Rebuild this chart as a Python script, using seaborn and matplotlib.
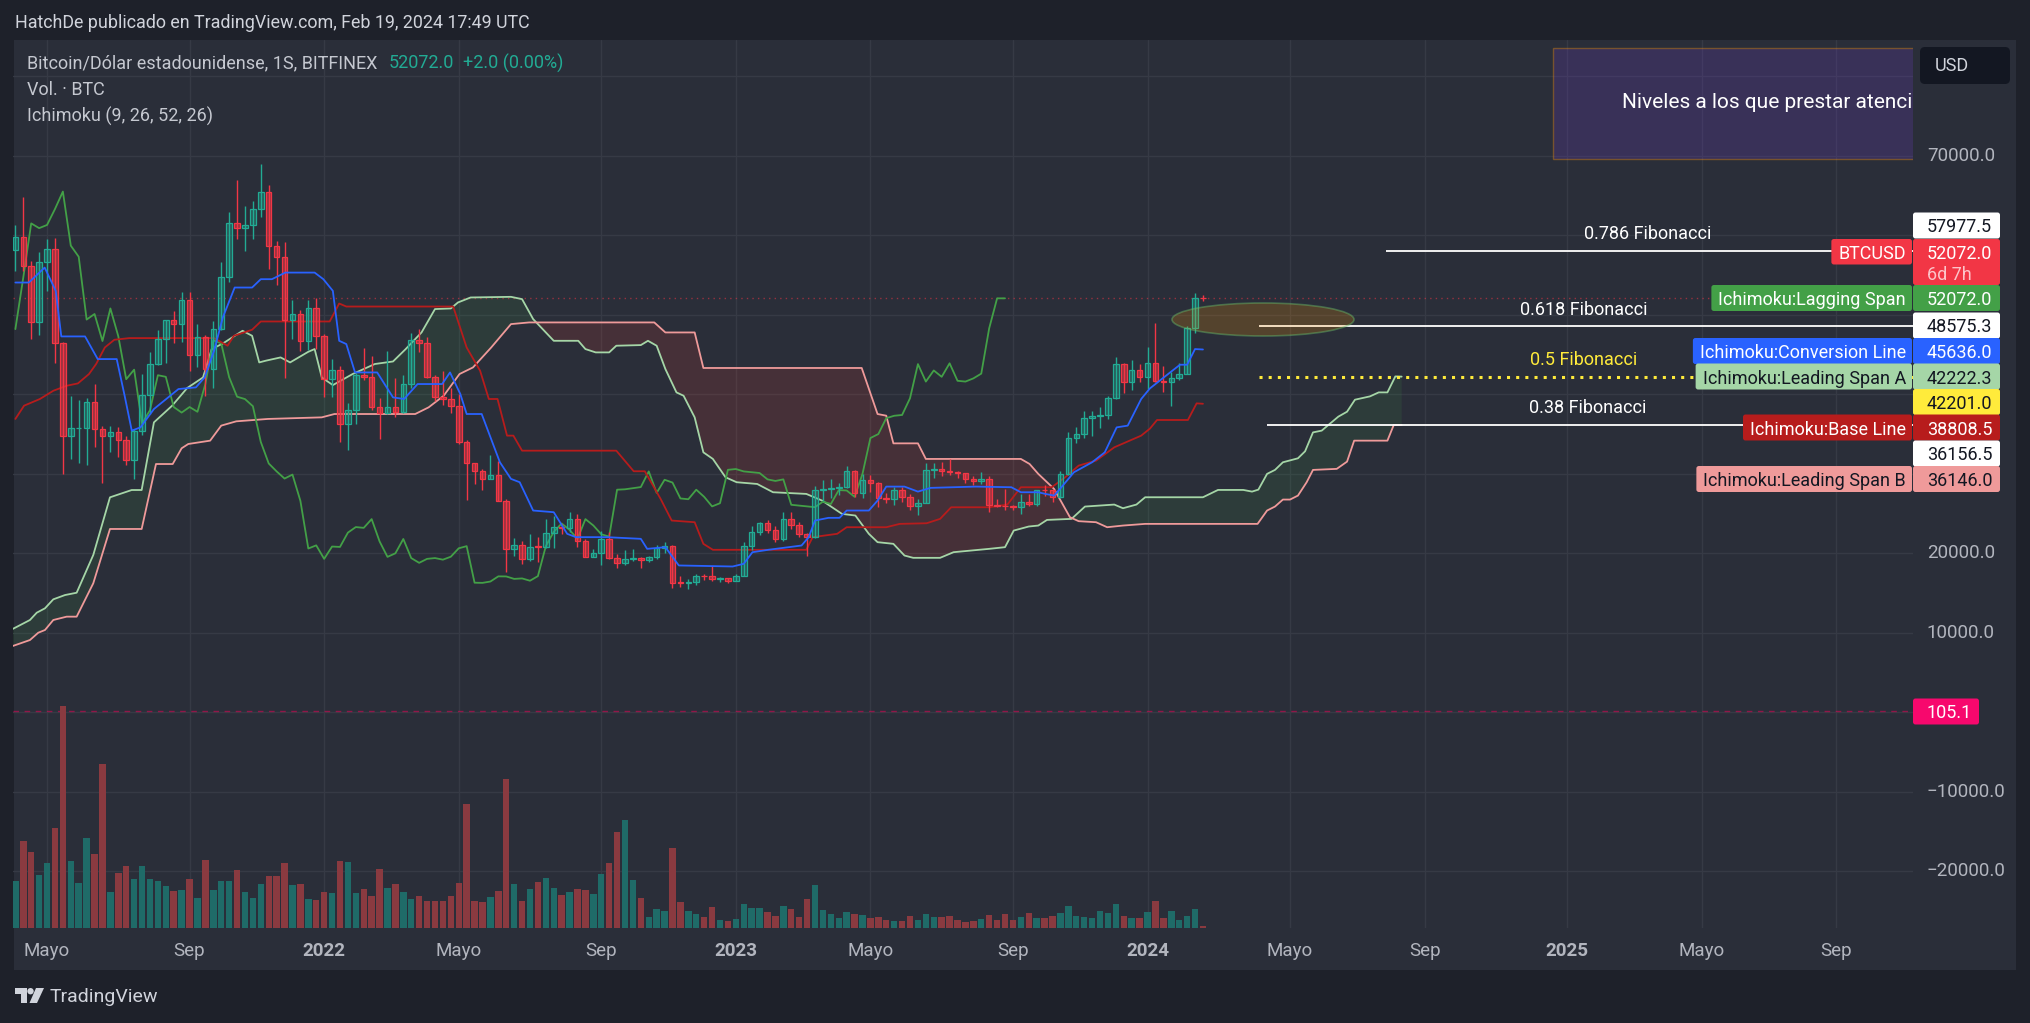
import numpy as np
import pandas as pd
import matplotlib
matplotlib.use("Agg")
import matplotlib.pyplot as plt
import matplotlib.dates as mdates
from matplotlib.patches import Rectangle, Ellipse, Polygon, Circle, FancyBboxPatch
from matplotlib.transforms import IdentityTransform
from matplotlib.colors import to_rgba
import seaborn as sns

# ---------------- data (weekly BTCUSD, Bitfinex) ----------------
first_week = "2021-04-05"
opens = [58200, 59800, 56200, 49100, 56600, 58250, 46500, 34800, 35700, 35800,
         39000, 35600, 34700, 35300, 34200, 31700, 35400, 39850, 43800, 47000,
         49300, 48900, 51800, 45000, 47200, 43200, 48200, 54700, 61500, 60900,
         61300, 63300, 65500, 58700, 57300, 49400, 50100, 46700, 50800, 47300,
         41900, 43100, 36300, 38000, 42400, 42200, 38400, 37700, 38400, 37800,
         41300, 46800, 46400, 42150, 39700, 39400, 38500, 34000, 31300, 30300,
         29400, 29900, 26600, 20600, 21000, 19300, 20850, 20800, 22600, 23300,
         23200, 24300, 21500, 19550, 20000, 21800, 19400, 18800, 19300, 19400,
         19200, 19570, 20630, 20900, 16300, 16280, 16450, 17100, 17090, 16780,
         16840, 16550, 17130, 20900, 22700, 23750, 22950, 21800, 24300, 23500,
         22400, 22100, 28000, 28050, 28190, 28330, 30300, 27600, 29250, 28900,
         26900, 26800, 28000, 27100, 25900, 26300, 30500, 30600, 30300, 30200,
         30100, 29300, 29100, 29300, 26100, 26000, 25900, 25800, 26500, 26200,
         27950, 27900, 27100, 30000, 34500, 35000, 37000, 37300, 37400, 39500,
         43800, 41600, 43000, 42200, 43900, 41700, 41600, 42000, 42600, 48300,
         52080]
highs = [61300, 64800, 56800, 57900, 59500, 59600, 46600, 39800, 39300, 39500,
         41300, 36000, 36000, 35900, 34800, 35600, 42600, 45300, 48100, 49400,
         50500, 52900, 52900, 48800, 47500, 49200, 56600, 62900, 67000, 63700,
         64300, 69000, 66300, 59300, 59200, 51900, 50600, 51900, 52100, 47600,
         44500, 43500, 38900, 42700, 45800, 44800, 39500, 45400, 42000, 42400,
         47700, 48200, 47200, 42400, 42900, 40800, 40000, 34300, 31400, 30600,
         32400, 31600, 26800, 21900, 21500, 22400, 22000, 24300, 24700, 23700,
         25200, 25000, 21800, 20500, 22800, 22700, 19900, 20400, 20500, 19500,
         19700, 21000, 21450, 21000, 17200, 16800, 17400, 17400, 18400, 17000,
         16900, 17400, 21400, 23400, 23900, 24250, 23400, 25200, 25200, 23900,
         22600, 28500, 29200, 29400, 28800, 31000, 30500, 30000, 29800, 29000,
         27600, 28400, 28400, 27400, 26800, 31400, 31300, 31500, 31800, 30400,
         30100, 29700, 30200, 29700, 26800, 28100, 26100, 27500, 27400, 28000,
         28600, 28000, 30300, 35200, 35900, 37900, 37900, 38400, 39800, 44700,
         43900, 44300, 43800, 45900, 49000, 43600, 42800, 43900, 48600, 52800,
         52500]
lows = [55500, 55500, 47000, 47500, 53000, 43900, 30000, 31800, 31300, 31100,
        33400, 28800, 32700, 32100, 31100, 29300, 34900, 37500, 43700, 43900,
        46400, 46600, 42900, 43400, 39800, 40800, 48100, 54100, 59500, 58000,
        59500, 62300, 55700, 53700, 42000, 46900, 45500, 45600, 45700, 39700,
        39700, 34000, 33000, 36300, 41800, 38000, 34400, 37500, 37200, 37600,
        40800, 45300, 42100, 39200, 38600, 37700, 33700, 26700, 28700, 28000,
        29300, 26600, 17600, 19700, 18700, 19000, 18900, 20700, 20700, 22400,
        22700, 20800, 19500, 19500, 18500, 19300, 18200, 18500, 19000, 18200,
        18900, 19300, 20100, 15600, 15800, 15500, 16000, 16700, 16500, 16400,
        16300, 16500, 17100, 20400, 22300, 22600, 21400, 21500, 23100, 22000,
        19600, 21900, 26600, 26900, 27300, 28200, 27100, 26900, 27700, 25800,
        26300, 26100, 26500, 25400, 24800, 26300, 29500, 29700, 29900, 29500,
        28900, 28600, 28700, 25200, 25800, 25400, 25400, 24900, 26000, 26000,
        27200, 26500, 26900, 29900, 33900, 34500, 34800, 35700, 36900, 39400,
        40200, 40500, 41500, 40700, 41500, 40300, 38500, 41800, 42500, 47700,
        51700]
closes = [59800, 56200, 49100, 56600, 58250, 46500, 34800, 35700, 35800, 39000,
          35600, 34700, 35300, 34200, 31700, 35400, 39850, 43800, 47000, 49300,
          48900, 51800, 45000, 47200, 43200, 48200, 54700, 61500, 60900, 61300,
          63300, 65500, 58700, 57300, 49400, 50100, 46700, 50800, 47300, 41900,
          43100, 36300, 38000, 42400, 42200, 38400, 37700, 38400, 37800, 41300,
          46800, 46400, 42150, 39700, 39400, 38500, 34000, 31300, 30300, 29400,
          29900, 26600, 20600, 21000, 19300, 20850, 20800, 22600, 23300, 23200,
          24300, 21500, 19550, 20000, 21800, 19400, 18800, 19300, 19400, 19200,
          19570, 20630, 20900, 16300, 16280, 16450, 17100, 17090, 16780, 16840,
          16550, 17130, 20900, 22700, 23750, 22950, 21800, 24300, 23500, 22400,
          22100, 28000, 28050, 28190, 28330, 30300, 27600, 29250, 28900, 26900,
          26800, 28000, 27100, 25900, 26300, 30500, 30600, 30300, 30200, 30100,
          29300, 29100, 29300, 26100, 26000, 25900, 25800, 26500, 26200, 27950,
          27900, 27100, 30000, 34500, 35000, 37000, 37300, 37400, 39500, 43800,
          41600, 43000, 42200, 43900, 41700, 41600, 42000, 42600, 48300, 52070,
          52072]
volume_kbtc = [21.1, 39.1, 34.1, 23.8, 29.2, 45.1, 100.0, 30.1, 20.2, 40.5,
               33.4, 73.8, 16.1, 24.7, 27.8, 22.0, 27.8, 22.0, 21.1, 18.8,
               16.5, 17.0, 22.0, 13.4, 30.5, 17.0, 21.1, 21.1, 26.0, 16.1,
               13.4, 19.7, 23.3, 23.3, 29.2, 19.3, 19.7, 12.9, 12.5, 16.1,
               15.6, 30.1, 29.6, 15.6, 17.4, 14.3, 26.5, 17.9, 19.7, 16.1,
               12.9, 14.3, 12.0, 12.0, 12.0, 14.3, 20.2, 55.8, 12.0, 11.6,
               13.8, 16.5, 67.1, 19.7, 12.0, 17.4, 20.6, 22.4, 17.9, 14.7,
               16.1, 17.4, 17.0, 15.2, 24.2, 29.2, 43.2, 48.6, 21.5, 13.7,
               4.8, 8.4, 7.5, 35.9, 11.6, 7.5, 6.2, 4.8, 9.3, 3.5,
               3.0, 3.9, 10.7, 8.9, 8.9, 7.1, 5.3, 9.8, 8.4, 4.8,
               12.9, 19.3, 8.0, 6.2, 4.4, 7.1, 6.2, 5.7, 4.4, 4.8,
               3.5, 3.0, 3.0, 5.3, 3.5, 6.2, 4.8, 4.8, 5.3, 3.5,
               2.6, 3.0, 3.9, 5.7, 3.5, 6.2, 3.5, 4.8, 6.6, 4.4,
               4.4, 5.3, 6.6, 9.8, 5.3, 4.8, 4.4, 7.5, 6.6, 10.7,
               5.3, 4.4, 4.4, 7.1, 12.0, 4.4, 7.5, 3.5, 5.3, 8.4,
               0.8]

# Ichimoku lines (time in weeks since first_week)
conv_w = [0.0, 1.7, 3.7, 5.1, 5.8, 8.8, 10.4, 12.8, 13.8, 14.7, 15.8, 17.5, 20.6, 22.8, 23.9,
          25.1, 26.2, 27.7, 29.9, 31.0, 32.4, 34.1, 37.8, 38.9, 40.1, 40.9, 41.8, 42.9, 45.7,
          47.7, 49.1, 50.8, 53.9, 54.9, 56.2, 57.0, 58.9, 61.2, 62.6, 63.7, 65.4, 68.0, 69.7,
          70.8, 74.7, 79.0, 79.8, 82.1, 83.8, 90.6, 92.0, 93.1, 95.1, 99.3, 100.2, 101.0,
          102.7, 104.1, 105.0, 107.8, 108.9, 110.0, 112.3, 114.0, 115.6, 121.3, 125.8, 127.0,
          129.2, 130.1, 131.2, 132.3, 133.7, 136.0, 137.6, 139.1, 140.5, 142.2, 143.3, 145.6,
          147.1, 148.0, 149.0, 150.0]
conv_v = [54060, 54060, 55940, 53010, 47280, 47280, 44430, 44430, 39820, 35430, 35840, 38150,
          40660, 40870, 42120, 45480, 49660, 53430, 53430, 54480, 54480, 55310, 55310, 54480,
          53010, 46730, 46320, 42750, 42750, 39610, 39410, 41290, 41290, 42750, 40030, 37520,
          37520, 31450, 29360, 28940, 25380, 25170, 22450, 22030, 22030, 21820, 20560, 20770,
          18470, 18340, 18680, 20140, 20440, 20980, 22030, 24120, 24460, 24460, 25380, 25380,
          26630, 28390, 28390, 27760, 28230, 28390, 28310, 27680, 27680, 27470, 27260, 28520,
          30190, 31450, 32700, 35840, 36060, 39410, 40740, 42550, 43720, 43720, 45690, 45636.0]
base_w = [0.0, 1.1, 3.1, 4.8, 6.5, 7.9, 9.3, 10.2, 11.3, 12.5, 14.4, 25.1, 26.8, 27.6, 29.9,
          31.0, 39.7, 40.9, 41.8, 55.3, 57.0, 58.7, 59.8, 60.9, 62.1, 62.9, 64.0, 75.9, 78.1,
          79.5, 81.5, 82.9, 85.8, 86.9, 88.1, 99.9, 100.7, 103.8, 105.0, 110.0, 111.7, 115.1,
          116.8, 118.2, 123.0, 125.3, 127.0, 130.9, 132.6, 134.3, 136.5, 138.8, 142.2, 143.3,
          144.2, 148.1, 149.2, 150.0]
base_v = [36900, 38570, 39410, 40450, 41080, 41370, 42550, 43810, 45890, 46860, 47070, 47070,
          46110, 47360, 48120, 49160, 49160, 51420, 51040, 51040, 45890, 42960, 39410, 39410,
          34800, 34800, 32910, 32910, 30320, 30320, 26840, 24120, 23910, 21190, 20440, 20440,
          22030, 22450, 23280, 23280, 23700, 23780, 24330, 25790, 25790, 26130, 28310, 28310,
          29560, 31030, 31660, 33330, 34800, 35680, 36770, 36770, 38860, 38808.5]
spanA_w = [-0.3, 1.84, 2.7, 3.74, 4.79, 6.27, 7.74, 9.84, 11.95, 14.69, 15.95, 17.5, 19.8,
           21.7, 23.7, 24.8, 26.2,
           28.7, 29.9, 30.8, 31.6, 33.5, 34.7, 37.0, 37.8, 38.7, 40.1, 42.6, 45.4, 47.7, 49.3,
           51.3, 53.0, 55.0, 55.9, 57.5, 62.6, 64.0, 65.4, 68.0, 71.1, 72.0, 73.3, 75.0, 75.9,
           79.0, 79.9, 81.0, 82.1, 83.5, 84.4, 85.8, 86.9, 88.1, 89.7, 91.1, 93.7, 95.7, 99.9,
           101.9, 104.4, 106.1, 107.8, 108.9, 110.9, 112.3, 113.4, 116.8, 118.5, 123.0, 125.0,
           126.1, 128.0, 129.2, 130.3, 133.4, 135.1, 138.8, 139.9, 141.6, 142.7, 150.0, 151.9,
           155.1, 156.2, 157.0, 158.1, 159.1, 160.1, 162.0, 162.9, 163.9, 165.0, 166.0, 167.1,
           168.2, 169.2, 171.1, 172.2, 173.3, 174.3, 175.1]
spanA_v = [10500, 11610, 12530, 13080, 14210, 14750, 15040, 19790, 27040, 27960, 27960, 36470,
           38570, 40790, 42120, 45690, 46390,
           47990, 47360, 44010, 44220, 44640, 44010, 45350, 45690, 42120, 41160,
           42550, 43810, 44130, 45690, 47780, 50720, 50800, 51550, 52180, 52260, 51970, 49460,
           46730, 46730, 45690, 45270, 45270, 46110, 46190, 46730, 46110, 43180, 40240, 39820,
           37100, 32700, 31870, 29560, 28940, 28720, 27680, 27470, 26630, 24960, 24750, 22450,
           21400, 21190, 19720, 19430, 19430, 20140, 20560, 20770, 22860, 23370, 23490, 24200,
           24330, 25880, 26130, 25670, 26130, 27050, 27050, 27970, 27970, 27760, 28010, 29990,
           30490, 31450, 31950, 32830, 35210, 35430, 36270, 37190, 37810, 39320, 39740, 40240,
           40240, 42250, 42222.3]
spanB_w = [-0.3, 1.84, 2.89, 3.74, 4.79, 6.48, 7.74, 9.84, 11.95, 15.95, 17.76, 19.87, 21.0,
           21.84, 24.6, 26.0, 27.9, 31.9, 38.7, 40.3,
           50.5, 52.2, 54.1, 56.1, 57.8, 60.1, 62.6, 64.9, 80.7, 82.1, 85.8, 86.9, 106.9,
           108.9, 110.0, 110.9, 114.0, 115.0, 127.0, 128.1, 129.2, 131.2, 133.2, 134.3, 136.5,
           137.9, 139.9, 142.7, 156.9, 158.1, 159.1, 160.1, 161.0, 162.0, 163.1, 163.9, 166.9,
           168.2, 169.1, 173.3, 174.1, 175.1]
spanB_v = [8350, 9090, 10010, 10350, 11610, 12030, 12030, 16230, 23060, 23060, 31230, 31230,
           33210, 33750, 34170, 36060, 36600, 36900, 37100, 37520,
           37520, 38360, 39820, 42550, 43380, 45890, 48830, 49040, 49040, 47780,
           47780, 43310, 43310, 37520, 37310, 33830, 33830, 31870, 31870, 31240, 29990, 28100,
           24540, 24040, 23910, 23280, 23490, 23700, 23700, 25380, 25880, 26760, 26760, 27260,
           28940, 30490, 30620, 31530, 34170, 34170, 36140, 36146.0]
lagging_shift_weeks = 25

fib_levels = [57977.5, 48575.3, 42201.0, 36156.5]
fib_names = ["0.786 Fibonacci", "0.618 Fibonacci", "0.5 Fibonacci", "0.38 Fibonacci"]
fib_start_weeks = [173.1, 157.1, 157.1, 158.1]

last_price = 52072.0
price_change = "+2.0 (0.00%)"
marker_value = 105.1
countdown = "6d 7h"

xtick_dates = ["2021-05-03", "2021-09-06", "2022-01-03", "2022-05-02", "2022-09-05",
               "2023-01-02", "2023-05-01", "2023-09-04", "2024-01-01", "2024-05-06",
               "2024-09-02", "2025-01-06", "2025-05-05", "2025-09-01"]
xtick_labels = ["Mayo", "Sep", "2022", "Mayo", "Sep", "2023", "Mayo", "Sep", "2024",
                "Mayo", "Sep", "2025", "Mayo", "Sep"]
ytick_values = list(range(-20000, 80001, 10000))
ytick_shown = [70000, 20000, 10000, -10000, -20000]

# ---------------- style ----------------
OUTER = "#1e212a"
PANEL = "#2a2e39"
GRID = "#363a45"
TXT = "#b2b5be"
UP = "#22ab94"
DN = "#f23645"
VOL_UP = "#1f6b68"
VOL_DN = "#8a3a40"
C_CONV = "#2962ff"
C_BASE = "#b71c1c"
C_LAG = "#43a047"
C_SPA = "#a5d6a7"
C_SPB = "#ef9a9a"
FS = 13.0

sns.set_theme(style="dark", rc={"axes.facecolor": PANEL, "figure.facecolor": OUTER,
                                "grid.color": GRID, "text.color": TXT,
                                "xtick.color": TXT, "ytick.color": TXT})
plt.rcParams["font.family"] = ["Roboto", "DejaVu Sans"]

W, H = 2031, 1023
PIX = IdentityTransform()


def FX(x):
    return x / W


def FY(y):
    return 1 - y / H


def P(x, y):
    return (x, H - y)


fig = plt.figure(figsize=(W / 100, H / 100), dpi=100, facecolor=OUTER)
fig.add_artist(Rectangle(P(14, 970), 2016 - 14, 970 - 40, transform=PIX,
                         facecolor=PANEL, edgecolor="none", zorder=-10))

AXL, AXR, AXT, AXB = 13, 1913, 40, 928
rect = [FX(AXL), FY(AXB), (AXR - AXL) / W, (AXB - AXT) / H]
ax = fig.add_axes(rect)
ax.set_facecolor("none")
ax_vol = fig.add_axes(rect, sharex=ax)
ax_vol.set_facecolor("none")

dates = pd.date_range(first_week, periods=len(closes), freq="7D")
dn = mdates.date2num(dates.to_pydatetime())
d0 = dn[0]


def wk(w):
    return d0 + np.asarray(w, dtype=float) * 7.0


o, h, l, c = (np.asarray(a, dtype=float) for a in (opens, highs, lows, closes))
up = c >= o

# ---------- limits & grid ----------
ax.set_xlim(d0 - 2.1, d0 + 1677.8)
ax.set_ylim(-27132, 84566)
ax.set_xticks(mdates.date2num(pd.to_datetime(xtick_dates).to_pydatetime()))
ax.set_xticklabels(xtick_labels)
for t in ax.get_xticklabels():
    if t.get_text().isdigit():
        t.set_fontweight("bold")
ax.yaxis.tick_right()
ax.set_yticks(ytick_values)
ax.set_yticklabels([(f"{v:.1f}".replace("-", "\u2212") if v in ytick_shown else "")
                    for v in ytick_values])
ax.grid(True, color=GRID, lw=1.0)
ax.set_axisbelow(True)
ax.tick_params(axis="both", length=0, labelsize=13.5, labelcolor=TXT)
ax.tick_params(axis="x", pad=10)
ax.tick_params(axis="y", pad=10)
for t in ax.get_yticklabels():
    t.set_verticalalignment("center")
for s in ax.spines.values():
    s.set_visible(False)
ax_vol.axis("off")

# ---------- cloud ----------
gw = np.union1d(spanA_w, spanB_w)
a_i = np.interp(gw, spanA_w, spanA_v)
b_i = np.interp(gw, spanB_w, spanB_v)
ax.fill_between(wk(gw), a_i, b_i, where=a_i >= b_i, interpolate=True,
                color="#43a047", alpha=0.13, lw=0, zorder=1)
ax.fill_between(wk(gw), a_i, b_i, where=a_i < b_i, interpolate=True,
                color="#f44336", alpha=0.14, lw=0, zorder=1)

# ---------- ichimoku lines ----------
line_kw = dict(ax=ax, estimator=None, sort=False, legend=False, lw=1.3)
sns.lineplot(x=wk(spanA_w), y=spanA_v, color=C_SPA, zorder=2, **line_kw)
sns.lineplot(x=wk(spanB_w), y=spanB_v, color=C_SPB, zorder=2, **line_kw)
lag_x = dn[:len(closes) - lagging_shift_weeks]
lag_y = c[lagging_shift_weeks:]
sns.lineplot(x=lag_x, y=lag_y, color=C_LAG, zorder=3, **line_kw)
sns.lineplot(x=wk(base_w), y=base_v, color=C_BASE, zorder=3, **line_kw)
sns.lineplot(x=wk(conv_w), y=conv_v, color=C_CONV, zorder=6, **line_kw)

# ---------- candles ----------
edge = [UP if u else DN for u in up]
face = [to_rgba(UP, 0.35) if u else to_rgba(DN, 0.55) for u in up]
ax.vlines(dn, l, h, colors=edge, lw=1.0, zorder=4)
body_h = np.maximum(np.abs(c - o), 70)
ax.bar(dn, body_h, bottom=np.minimum(o, c), width=4.9, color=face,
       edgecolor=edge, linewidth=0.9, zorder=5)

# ---------- reference lines ----------
ax.axhline(last_price, color=DN, alpha=0.55, lw=1.0, ls=(0, (1, 3)), zorder=1)
ax.axhline(marker_value, color="#f50057", alpha=0.5, lw=1.0, ls=(0, (4, 4)), zorder=1)
xr = ax.get_xlim()[1] + 50
for val, sw, name in zip(fib_levels, fib_start_weeks, fib_names):
    if name.startswith("0.5 "):
        ax.hlines(val, wk(sw), xr, colors="#ffeb3b", lw=2.2, linestyles=(0, (1, 2)), zorder=7)
    else:
        ax.hlines(val, wk(sw), xr, colors="white", lw=1.3, zorder=7)

# ---------- volume ----------
vcol = [VOL_UP if u else VOL_DN for u in up]
ax_vol.bar(dn, volume_kbtc, width=5.7, color=vcol, lw=0)
ax_vol.set_ylim(0, 400)
ax_vol.set_xlim(d0 - 2.1, d0 + 1677.8)

# ---------- drawings (ellipse, note) ----------
ax.add_patch(Ellipse(P(1263, 319.5), 182, 33, transform=PIX, facecolor=to_rgba("#ff9800", 0.2),
                     edgecolor=to_rgba("#66bb6a", 0.45), lw=1.2, zorder=8))
note = Rectangle(P(1553, 159), 400, 111, transform=PIX, facecolor=to_rgba("#673ab7", 0.25),
                 edgecolor=to_rgba("#ff9800", 0.35), lw=1.0, zorder=8)
ax.add_patch(note)
note.set_clip_box(ax.bbox)
tn = ax.text(1622, H - 103, "Niveles a los que prestar atención", transform=PIX,
             color="white", fontsize=15, va="center", ha="left", zorder=9, clip_on=True)
tn.set_clip_box(ax.bbox)

fib_text_pos = [(1648, 234), (1584, 310), (1584, 360), (1588, 408)]
for (px, py), name in zip(fib_text_pos, fib_names):
    col = "#ffeb3b" if name.startswith("0.5 ") else "white"
    fig.text(FX(px), FY(py), name, color=col, fontsize=FS, ha="center", va="center", zorder=9)

renderer = fig.canvas.get_renderer()

# ---------- header / legend ----------
fig.text(FX(15), FY(23), "HatchDe publicado en TradingView.com, Feb 19, 2024 17:49 UTC",
         color="#d1d4dc", fontsize=12.9, va="center", ha="left")
t1 = fig.text(FX(27), FY(63), "Bitcoin/Dólar estadounidense, 1S, BITFINEX", color="#c5c8d0",
              fontsize=FS, va="center", ha="left")
x_next = t1.get_window_extent(renderer).x1 + 11
t2 = fig.text(FX(x_next), FY(63), f"{last_price:.1f}", color=UP, fontsize=FS,
              va="center", ha="left")
x_next = t2.get_window_extent(renderer).x1 + 9
fig.text(FX(x_next), FY(63), price_change, color=UP, fontsize=FS, va="center", ha="left")
fig.text(FX(27), FY(90), "Vol. · BTC", color="#c5c8d0", fontsize=FS, va="center", ha="left")
fig.text(FX(27), FY(116), "Ichimoku (9, 26, 52, 26)", color="#c5c8d0", fontsize=FS,
         va="center", ha="left")

# USD box
fig.add_artist(FancyBboxPatch(P(1920, 84), 90, 37, boxstyle="round,pad=0,rounding_size=5",
                              transform=PIX, facecolor="#131722", edgecolor="none", zorder=19))
fig.text(FX(1935), FY(66), "USD", color="#d1d4dc", fontsize=FS, va="center", ha="left", zorder=20)

# ---------- right-hand price labels ----------


def box(x0, y0, x1, y1, color):
    fig.add_artist(FancyBboxPatch(P(x0, y1), x1 - x0, y1 - y0,
                                  boxstyle="round,pad=0,rounding_size=2.5", transform=PIX,
                                  facecolor=color, edgecolor="none", zorder=19))


def price_tag(yc, value, bg, fg, name=None, hgt=26, vx1=2000):
    box(1913, yc - hgt / 2, vx1, yc + hgt / 2, bg)
    fig.text(FX(1927), FY(yc), value, color=fg, fontsize=FS, va="center_baseline",
             ha="left", zorder=20)
    if name:
        t = fig.text(FX(1906), FY(yc), name, color=fg, fontsize=FS, va="center_baseline",
                     ha="right", zorder=20)
        bb = t.get_window_extent(renderer)
        box(bb.x0 - 7, yc - hgt / 2, 1912, yc + hgt / 2, bg)


price_tag(225.5, f"{fib_levels[0]:.1f}", "#ffffff", "#131722")
# BTCUSD two-line label
box(1913, 239, 2000, 285, DN)
fig.text(FX(1927), FY(252), f"{last_price:.1f}", color="white", fontsize=FS,
         va="center_baseline", ha="left", zorder=20)
fig.text(FX(1927), FY(273), countdown, color="#fcc4c9", fontsize=FS,
         va="center_baseline", ha="left", zorder=20)
tb = fig.text(FX(1906), FY(252), "BTCUSD", color="white", fontsize=FS,
              va="center_baseline", ha="right", zorder=20)
bbt = tb.get_window_extent(renderer)
box(bbt.x0 - 7, 239, 1912, 264.5, DN)

price_tag(298, f"{closes[-1]:.1f}", C_LAG, "white", "Ichimoku:Lagging Span")
price_tag(325.5, f"{fib_levels[1]:.1f}", "#ffffff", "#131722")
price_tag(351, f"{conv_v[-1]:.1f}", C_CONV, "white", "Ichimoku:Conversion Line")
price_tag(376.5, f"{spanA_v[-1]:.1f}", C_SPA, "#131722", "Ichimoku:Leading Span A")
price_tag(402, f"{fib_levels[2]:.1f}", "#ffeb3b", "#131722")
price_tag(427.5, f"{base_v[-1]:.1f}", C_BASE, "white", "Ichimoku:Base Line")
price_tag(453.5, f"{fib_levels[3]:.1f}", "#ffffff", "#131722")
price_tag(479, f"{spanB_v[-1]:.1f}", C_SPB, "#131722", "Ichimoku:Leading Span B")
price_tag(711.5, f"{marker_value:.1f}", "#f7086d", "white", vx1=1979)

# ---------- TradingView logo ----------
LOGO = "#d1d4dc"
fig.add_artist(Polygon([P(15, 988), P(27, 988), P(27, 1003), P(21, 1003), P(21, 993.5),
                        P(15, 993.5)], closed=True, transform=PIX, facecolor=LOGO,
                       edgecolor="none"))
fig.add_artist(Circle(P(30.5, 991.2), 3.2, transform=PIX, facecolor=LOGO, edgecolor="none"))
fig.add_artist(Polygon([P(36, 988), P(44, 988), P(37, 1003), P(29.5, 1003)], closed=True,
                       transform=PIX, facecolor=LOGO, edgecolor="none"))
fig.text(FX(50), FY(996.5), "TradingView", color=LOGO, fontsize=14, va="center", ha="left")

fig.savefig("out.png", dpi=100, facecolor=OUTER)
